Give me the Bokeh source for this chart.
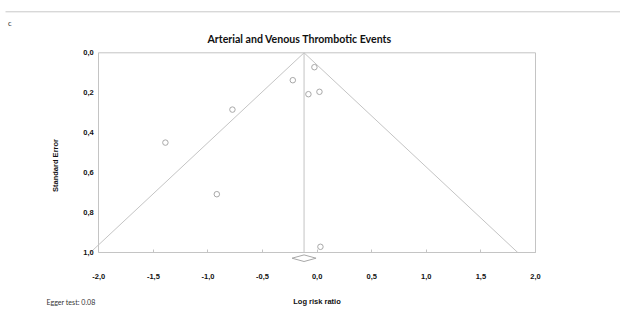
import math
from bokeh.plotting import figure
from bokeh.models import (Range1d, FixedTicker, CustomJSTickFormatter, Label,
                          LinearAxis)
from bokeh.embed import file_html
from bokeh.resources import INLINE

# ---- data ----
title_text = "Arterial and Venous Thrombotic Events"
log_rr = [-0.025, -0.223, -0.080, 0.021, -0.776, -1.390, -0.919, 0.030]
std_err = [0.072, 0.137, 0.207, 0.195, 0.284, 0.449, 0.707, 0.970]
pooled = -0.12
pooled_half_ci = 0.11
x_ticks = [-2.0, -1.5, -1.0, -0.5, 0.0, 0.5, 1.0, 1.5, 2.0]
y_ticks = [0.0, 0.2, 0.4, 0.6, 0.8, 1.0]
x_label = "Log risk ratio"
y_label = "Standard Error"
egger_text = "Egger test: 0.08"
panel_letter = "c"

# ---- layout (pixels on the canvas) ----
W, H = 620, 310
box_left, box_right = 98.3, 535.0     # pixel of x=-2 and x=2
box_top, box_bottom = 52.3, 252.3     # pixel of SE=0 and SE=1
x_lo, x_hi = -2.0, 2.0
y_lo, y_hi = 0.0, 1.0
sx = (box_right - box_left) / (x_hi - x_lo)
sy = (box_bottom - box_top) / (y_hi - y_lo)


def px_x(px):
    return x_lo + (px - box_left) / sx


def px_y(py):
    return y_lo + (py - box_top) / sy


GRAY = "#c4c4c4"
PT = "#a8a8a8"
TXT = "#111111"

p = figure(width=W, height=H, output_backend="svg", toolbar_location=None,
           x_range=Range1d(px_x(0), px_x(W)), y_range=Range1d(px_y(H), px_y(0)),
           min_border=0, x_axis_location=None, y_axis_location=None,
           background_fill_color="white", border_fill_color="white")
p.grid.visible = False
p.outline_line_color = None

fmt = CustomJSTickFormatter(code="return tick.toFixed(1).replace('.', ',');")

xa = LinearAxis(fixed_location=y_hi, bounds=(x_lo, x_hi),
                ticker=FixedTicker(ticks=x_ticks), formatter=fmt)
xa.axis_line_color = GRAY
xa.major_tick_line_color = GRAY
xa.major_tick_in = 3
xa.major_tick_out = 0
xa.minor_tick_line_color = None
xa.major_label_standoff = 21
xa.major_label_text_font = "Liberation Sans"
xa.major_label_text_font_style = "bold"
xa.major_label_text_font_size = "7.5px"
xa.major_label_text_color = TXT
p.add_layout(xa, "below")

ya = LinearAxis(fixed_location=x_lo, bounds=(y_lo, y_hi),
                ticker=FixedTicker(ticks=y_ticks), formatter=fmt)
ya.axis_line_color = GRAY
ya.major_tick_line_color = GRAY
ya.major_tick_in = 0
ya.major_tick_out = 0
ya.minor_tick_line_color = None
ya.major_label_standoff = 5
ya.major_label_text_font = "Liberation Sans"
ya.major_label_text_font_style = "bold"
ya.major_label_text_font_size = "7.5px"
ya.major_label_text_color = TXT
p.add_layout(ya, "left")

# box top and right edges
p.line([x_lo, x_hi, x_hi], [y_lo, y_lo, y_hi], line_color=GRAY, line_width=1)

# funnel lines
se_line = [y_lo, y_hi]
p.line([pooled - 1.96 * s for s in se_line], se_line, line_color=GRAY, line_width=1)
p.line([pooled + 1.96 * s for s in se_line], se_line, line_color=GRAY, line_width=1)
p.line([pooled, pooled], se_line, line_color=GRAY, line_width=1)

# studies
p.scatter(log_rr, std_err, marker="circle", size=5.5, fill_color="white",
          line_color=PT, line_width=1)

# pooled diamond (below the axis)
d_y = px_y(257.7)
d_h = 3.3 / sy
p.patch([pooled - pooled_half_ci, pooled, pooled + pooled_half_ci, pooled],
        [d_y, d_y - d_h, d_y, d_y + d_h],
        fill_color="white", line_color=PT, line_width=1)

# top rule
p.line([px_x(5), px_x(W)], [px_y(11.3), px_y(11.3)], line_color="#c8c8c8", line_width=1)

# texts
p.add_layout(Label(x=px_x(299.2), y=px_y(38), text=title_text, text_align="center",
                   text_baseline="middle", text_font="Lato", text_font_style="bold",
                   text_font_size="10.6px", text_color=TXT))
p.add_layout(Label(x=px_x(55), y=px_y(165), text=y_label, angle=math.pi / 2,
                   text_align="center", text_baseline="middle",
                   text_font="Liberation Sans", text_font_style="bold",
                   text_font_size="7.5px", text_color=TXT))
p.add_layout(Label(x=px_x(316.5), y=px_y(300.7), text=x_label, text_align="center",
                   text_baseline="middle",
                   text_font="Liberation Sans", text_font_style="bold",
                   text_font_size="7.5px", text_color=TXT))
p.add_layout(Label(x=px_x(46), y=px_y(302.3), text=egger_text, text_align="left",
                   text_baseline="middle", text_font="Lato",
                   text_font_size="7.1px", text_color="#333333"))
p.add_layout(Label(x=px_x(7.5), y=px_y(23.2), text=panel_letter, text_align="left",
                   text_baseline="middle", text_font="Lato",
                   text_font_size="7.5px", text_color="#333333"))

open("out.html", "w").write(file_html(p, INLINE))
